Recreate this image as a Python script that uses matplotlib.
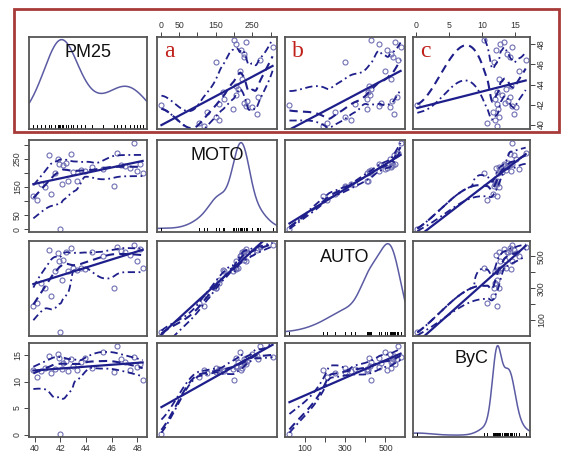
import numpy as np
import matplotlib.pyplot as plt
from matplotlib.patches import Rectangle

PM25 = [39.9, 40.2, 40.5, 40.8, 41.1, 41.3, 41.6, 41.8, 41.9, 42.0,
        42.1, 42.2, 42.4, 42.6, 42.8, 43.0, 43.3, 43.6, 43.9, 44.5,
        45.3, 46.2, 46.4, 46.7, 47.0, 47.4, 47.7, 48.0, 48.2, 48.4]
MOTO = [118, 105, 160, 150, 262, 125, 198, 250, 232, 2,
        160, 228, 236, 172, 266, 205, 170, 210, 206, 222,
        215, 152, 272, 228, 226, 218, 305, 206, 232, 199]
AUTO = [190, 210, 330, 300, 540, 250, 410, 520, 470, 22,
        350, 480, 530, 410, 555, 425, 415, 430, 420, 525,
        500, 300, 560, 535, 525, 510, 575, 470, 545, 430]
BYC = [12.2, 10.8, 12.0, 12.5, 14.8, 11.6, 12.4, 15.2, 14.5, 0.2,
       12.3, 13.5, 13.9, 11.9, 14.3, 13.0, 12.2, 13.6, 14.4, 12.6,
       15.6, 11.8, 16.6, 14.2, 13.7, 12.1, 14.6, 12.7, 13.3, 10.3]

VAR_NAMES = ["PM25", "MOTO", "AUTO", "ByC"]
PANEL_TAGS = ["a", "b", "c"]

TICKS = [[40, 42, 44, 46, 48],
         [0, 50, 100, 150, 200, 250, 300],
         [100, 200, 300, 400, 500],
         [0, 5, 10, 15]]
TICK_LABELS = [["40", "42", "44", "46", "48"],
               ["0", "50", "", "150", "", "250", ""],
               ["100", "", "300", "", "500"],
               ["0", "5", "10", "15"]]

W, H = 562, 455
COL_X = [29, 157, 285, 413]
COL_W = [118, 120, 120, 117]
ROW_Y = [37, 140, 241, 343]
ROW_H = [92, 92, 95, 94]

LINE_COL = "#1f1f8c"
PT_COL = "#6f6fb5"
DENS_COL = "#5b5ba3"


def loess(x, y, xs, span=0.5, degree=1, iters=4):
    # local regression (tricube weights, robustness passes), fitted at the
    # distinct x values and joined by cubic hermite pieces like R's loess surface
    n = len(x)
    k = max(int(np.floor(span * n)), 2)
    rw = np.ones(n)

    def fit_at(x0):
        d = np.abs(x - x0)
        h = np.sort(d)[k - 1] * 1.0001 + 1e-9
        w = np.clip(1 - (d / h) ** 3, 0, None) ** 3 * rw
        if degree == 0 or np.sum(w > 0) < 3:
            return np.sum(w * y) / np.sum(w)
        sw = np.sqrt(w)
        X = np.column_stack([np.ones(n), x - x0])
        beta = np.linalg.lstsq(X * sw[:, None], y * sw, rcond=None)[0]
        return beta[0]

    for _ in range(iters - 1):
        fitted = np.array([fit_at(xi) for xi in x])
        res = y - fitted
        s = np.median(np.abs(res)) + 1e-9
        rw = np.clip(1 - (res / (6 * s)) ** 2, 0, None) ** 2
    fitted = np.array([fit_at(xi) for xi in x])

    v = np.unique(x)
    fv = np.array([fit_at(t) for t in v])
    e = 1e-3 * (v.max() - v.min())
    mv = np.array([(fit_at(t + e) - fit_at(t - e)) / (2 * e) for t in v])
    out = np.empty(len(xs))
    for j, g in enumerate(xs):
        i = min(max(np.searchsorted(v, g) - 1, 0), len(v) - 2)
        hh = v[i + 1] - v[i]
        t = (g - v[i]) / hh
        out[j] = ((2 * t ** 3 - 3 * t ** 2 + 1) * fv[i] + (t ** 3 - 2 * t ** 2 + t) * hh * mv[i]
                  + (-2 * t ** 3 + 3 * t ** 2) * fv[i + 1] + (t ** 3 - t ** 2) * hh * mv[i + 1])
    return out, fitted


def adaptive_density(x, grid):
    n = len(x)
    q75, q25 = np.percentile(x, [75, 25])
    bw = 0.9 * min(np.std(x, ddof=1), (q75 - q25) / 1.34) * n ** -0.2
    pilot = np.array([np.mean(np.exp(-0.5 * ((xi - x) / bw) ** 2)) / (bw * np.sqrt(2 * np.pi)) for xi in x])
    g = np.exp(np.mean(np.log(pilot)))
    hs = bw * (pilot / g) ** -0.5
    dens = np.array([np.mean(np.exp(-0.5 * ((g0 - x) / hs) ** 2) / (hs * np.sqrt(2 * np.pi))) for g0 in grid])
    return dens


def lims(v):
    lo, hi = np.min(v), np.max(v)
    pad = 0.04 * (hi - lo)
    return lo - pad, hi + pad


def main():
    data = [np.array(PM25, float), np.array(MOTO, float), np.array(AUTO, float), np.array(BYC, float)]
    plt.rcParams['font.family'] = ['Liberation Sans', 'DejaVu Sans']
    fig = plt.figure(figsize=(W / 100, H / 100), dpi=100)

    for r in range(4):
        for c in range(4):
            ax = fig.add_axes([COL_X[c] / W, 1 - (ROW_Y[r] + ROW_H[r]) / H, COL_W[c] / W, ROW_H[r] / H])
            for sp in ax.spines.values():
                sp.set_color("#555555")
                sp.set_linewidth(1.3)
            ax.set_xticks([])
            ax.set_yticks([])
            xv = data[c]
            ax.set_xlim(*lims(xv))
            if r == c:
                grid = np.linspace(*lims(xv), 300)
                dens = adaptive_density(xv, grid)
                ax.plot(grid, dens, color=DENS_COL, lw=1.1)
                ymax = dens.max() * 1.03
                ax.set_ylim(-0.02 * ymax, ymax)
                for v in xv:
                    ax.plot([v, v], [-0.02 * ymax, 0.02 * ymax], color="black", lw=0.7)
                ax.text(0.5, 0.83, VAR_NAMES[r], transform=ax.transAxes, ha="center", va="center",
                        fontsize=13, color="#111111")
            else:
                yv = data[r]
                ax.set_ylim(*lims(yv))
                ax.plot(xv, yv, "o", ms=3.6, mfc="none", mec=PT_COL, mew=0.8)
                b1, b0 = np.polyfit(xv, yv, 1)
                xs = np.array([xv.min(), xv.max()])
                ax.plot(xs, b0 + b1 * xs, color=LINE_COL, lw=1.6)
                grid = np.linspace(xv.min(), xv.max(), 150)
                sm, fitted = loess(xv, yv, grid)
                ax.plot(grid, sm, color=LINE_COL, lw=1.5, ls=(0, (4, 2.5)))
                res = yv - fitted
                pos = res > 0
                up, _ = loess(xv[pos], res[pos] ** 2, grid, degree=0, iters=1)
                dn, _ = loess(xv[~pos], res[~pos] ** 2, grid, degree=0, iters=1)
                ax.plot(grid, sm + np.sqrt(np.clip(up, 0, None)), color=LINE_COL, lw=1.3,
                        ls=(0, (4, 2, 1, 2)))
                ax.plot(grid, sm - np.sqrt(np.clip(dn, 0, None)), color=LINE_COL, lw=1.3,
                        ls=(0, (4, 2, 1, 2)))
                if r == 0:
                    ax.text(0.06, 0.78, PANEL_TAGS[c - 1], transform=ax.transAxes, ha="left",
                            va="baseline", fontsize=17, color="#c0201a", family="Liberation Serif")

            tick_kw = dict(length=3.5, width=0.7, color="#444444", labelsize=6.3, labelcolor="#333333", pad=1.5)
            # axes alternate around the matrix, as R's pairs() draws them
            if r == 0 and c in (1, 3):
                ax.xaxis.tick_top()
                ax.set_xticks(TICKS[c], TICK_LABELS[c])
                ax.tick_params(axis="x", **tick_kw)
            if r == 3 and c in (0, 2):
                ax.set_xticks(TICKS[c], TICK_LABELS[c])
                ax.tick_params(axis="x", **tick_kw)
            if c == 0 and r in (1, 3):
                ax.set_yticks(TICKS[r], TICK_LABELS[r], rotation=90, va="center")
                ax.tick_params(axis="y", **tick_kw)
            if c == 3 and r in (0, 2):
                ax.yaxis.tick_right()
                ax.set_yticks(TICKS[r], TICK_LABELS[r], rotation=90, va="center")
                ax.tick_params(axis="y", **tick_kw)

    fig.patches.append(Rectangle((14 / W, 1 - 132 / H), 545 / W, 123 / H, transform=fig.transFigure,
                                 fill=False, edgecolor="#a83a3a", lw=2.0))
    fig.savefig("out.png", dpi=100)


if __name__ == "__main__":
    main()
